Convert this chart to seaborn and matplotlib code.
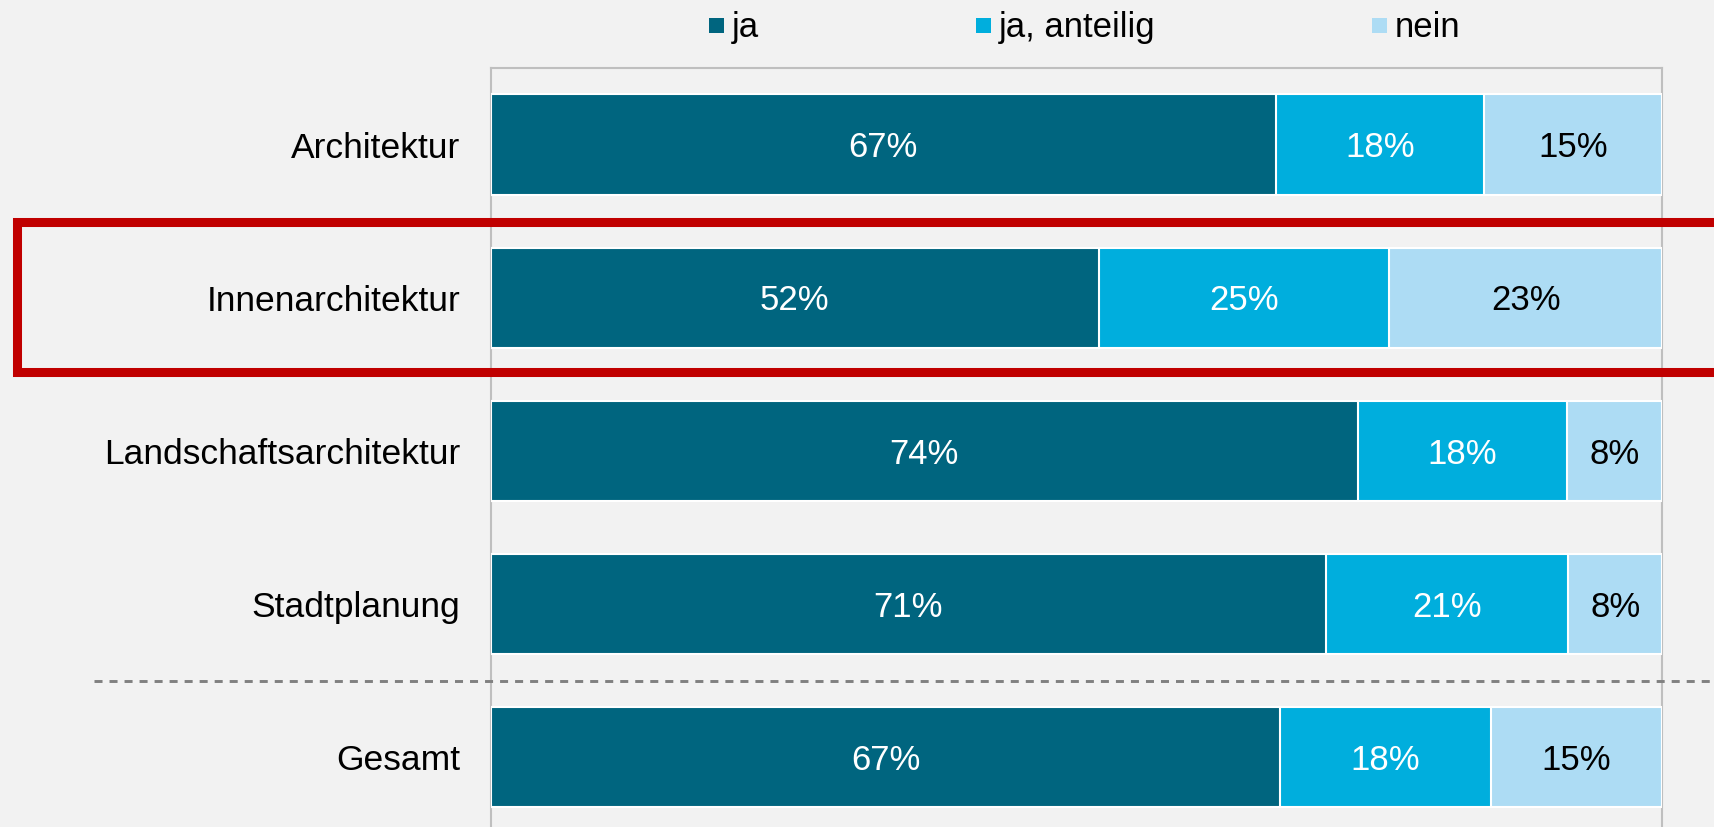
import seaborn as sns
import matplotlib
matplotlib.use("Agg")
import matplotlib.pyplot as plt
import matplotlib.transforms as mtransforms
from matplotlib.lines import Line2D
import pandas as pd

sns.set_theme(style="white")
plt.rcParams["font.family"] = ["Liberation Sans", "DejaVu Sans"]

# ---- data ----
categories = ["Architektur", "Innenarchitektur", "Landschaftsarchitektur",
              "Stadtplanung", "Gesamt"]
ja = [67.0, 51.9, 74.0, 71.3, 67.4]
ja_anteilig = [17.8, 24.8, 17.9, 20.7, 18.0]
nein = [15.2, 23.3, 8.1, 8.0, 14.6]
series_labels = ["ja", "ja, anteilig", "nein"]
colors = ["#00657F", "#00AEDD", "#ADDCF4"]
label_colors = ["white", "white", "black"]

df = pd.DataFrame({"cat": categories, "ja": ja, "ant": ja_anteilig, "nein": nein})
df["c1"] = df["ja"]
df["c2"] = df["c1"] + df["ant"]
df["c3"] = df["c2"] + df["nein"]

BG = "#F2F2F2"
fig = plt.figure(figsize=(17.15, 8.27), dpi=100, facecolor=BG)
ax = fig.add_axes([0.2863, -0.00846, 0.6828, 0.92624])
ax.set_facecolor(BG)

# stacked bars via overlay of cumulative totals (back to front)
for col, color in zip(["c3", "c2", "c1"], colors[::-1]):
    sns.barplot(data=df, y="cat", x=col, order=categories, color=color,
                saturation=1, width=0.654, edgecolor="white", linewidth=1.5,
                zorder=3, errorbar=None, ax=ax)

# value labels (baseline placed so digits are visually centred)
for i, (a, b, c) in enumerate(zip(ja, ja_anteilig, nein)):
    left = 0
    for v, tc in zip([a, b, c], label_colors):
        ax.text(left + v / 2, i + 0.082, f"{round(v)}%", ha="center",
                va="baseline", fontsize=25, color=tc, zorder=5)
        left += v

ax.set_xlim(0, 100)
ax.set_ylim(4.5, -0.5)
ax.set_xticks([])
ax.set_xlabel("")
ax.set_ylabel("")
ax.tick_params(axis="y", length=0, pad=22, labelsize=25.5, labelcolor="black")

for s in ["top", "left", "right"]:
    ax.spines[s].set_visible(True)
    ax.spines[s].set_color("#BFBFBF")
    ax.spines[s].set_linewidth(1.5)
    ax.spines[s].set_zorder(2)
ax.spines["bottom"].set_visible(False)

# legend
handles = [Line2D([], [], marker="s", linestyle="none", markersize=10.8,
                  markerfacecolor=c, markeredgewidth=0) for c in colors]
fig.legend(handles, series_labels, loc="center", bbox_to_anchor=(0.632, 0.967),
           ncol=3, frameon=False, fontsize=25, handlelength=0.5,
           handletextpad=0.2, columnspacing=6.2, borderpad=0, borderaxespad=0,
           labelcolor="black")

# separator dashed line and highlight box
trans = mtransforms.blended_transform_factory(fig.transFigure, ax.transData)
fig.add_artist(Line2D([0.055, 1.0], [3.5, 3.5], transform=trans, color="#808080",
                      lw=2.1, linestyle=(0, (2.75, 2.4)), clip_on=False, zorder=4))
x0, x1 = 17.5 / 1715, 1.02
y0, y1 = 0.507, 1.486
fig.add_artist(Line2D([x0, x0, x1, x1, x0, x0], [1.0, y0, y0, y1, y1, 1.0],
                      transform=trans, color="#C00000", lw=6.5,
                      solid_joinstyle="miter", solid_capstyle="butt",
                      clip_on=False, zorder=6))

fig.savefig("out.png", dpi=100, facecolor=BG)
